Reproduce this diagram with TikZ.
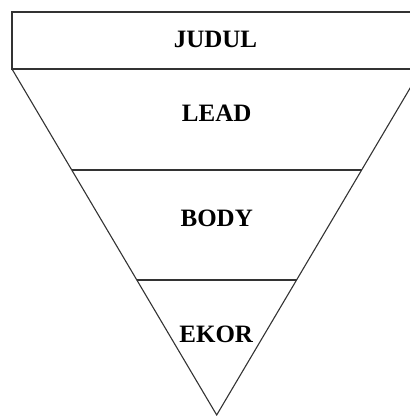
\documentclass[tikz,border=0pt]{standalone}
\usepackage{fontspec}
\setmainfont{Liberation Serif}
\usetikzlibrary{calc}
\begin{document}
\begin{tikzpicture}[x=1pt,y=-1pt,
  outline/.style={draw=black!80,line width=1.1pt},
  label/.style={font=\fontsize{25}{30}\selectfont\bfseries,inner sep=0pt,anchor=center}]
\useasboundingbox (0,0) rectangle (410,416);
\clip (0,0) rectangle (410,416);
\coordinate (L) at (12,69);
\coordinate (R) at (421.4,69);
\coordinate (A) at (216.7,415);
\draw[outline] (12,12) rectangle (421.4,69);
\draw[outline,line join=miter] (L) -- (A) -- (R);
\draw[outline] ($(L)!0.2919!(A)$) -- ($(R)!0.2919!(A)$);
\draw[outline] ($(L)!0.6098!(A)$) -- ($(R)!0.6098!(A)$);
\node[label] (judul) at (215.5,39.8) {JUDUL};
\node[label] (lead) at (216.7,112.8) {LEAD};
\node[label] (body) at (216.7,218.8) {BODY};
\node[label] (ekor) at (216.2,334.8) {EKOR};
\end{tikzpicture}
\end{document}
